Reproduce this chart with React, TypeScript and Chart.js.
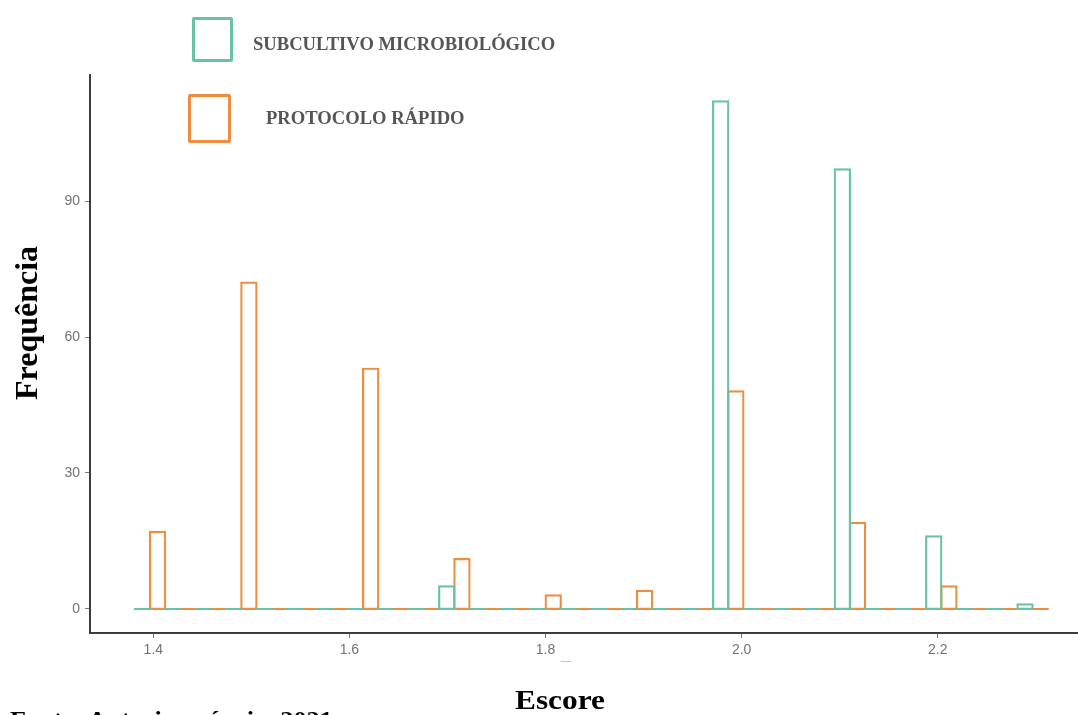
import React, { useEffect, useRef } from "react";
import { Chart, registerables } from "chart.js";

Chart.register(...registerables);

// Histogram bin centres (30 bins)
const BIN_CENTERS = [
  1.3966, 1.4276, 1.4587, 1.4897, 1.5208, 1.5518, 1.5828, 1.6139, 1.6449, 1.676,
  1.707, 1.738, 1.7691, 1.8001, 1.8312, 1.8622, 1.8933, 1.9243, 1.9553, 1.9864,
  2.0174, 2.0485, 2.0795, 2.1105, 2.1416, 2.1726, 2.2037, 2.2347, 2.2657, 2.2968,
];

const SUBCULTIVO_MICRO = [
  0, 0, 0, 0, 0, 0, 0, 0, 0, 0,
  5, 0, 0, 0, 0, 0, 0, 0, 0, 112,
  0, 0, 0, 97, 0, 0, 16, 0, 0, 1,
];

const PROTOCOLO_RAPIDO = [
  17, 0, 0, 72, 0, 0, 0, 53, 0, 0,
  11, 0, 0, 3, 0, 0, 4, 0, 0, 48,
  0, 0, 0, 19, 0, 0, 5, 0, 0, 0,
];

const X_TICK_VALUES = [1.4, 1.6, 1.8, 2.0, 2.2];
const Y_TICK_VALUES = [0, 30, 60, 90];
const SERIES_LABELS = ["SUBCULTIVO MICROBIOLÓGICO", "PROTOCOLO RÁPIDO"];
const X_TITLE = "Escore";
const Y_TITLE = "Frequência";
const SOURCE_NOTE = "Fonte: Autoria própria, 2021";

const GREEN = "#66c3a3";
const ORANGE = "#ee8c40";
const HALF_STROKE = 0.24; // half the outline thickness, expressed in count units

const serif = '"Liberation Serif", "Times New Roman", serif';
const sans = '"Liberation Sans", Arial, sans-serif';

export default function App() {
  const canvasRef = useRef<HTMLCanvasElement | null>(null);

  useEffect(() => {
    const canvas = canvasRef.current;
    if (!canvas) return;
    const toBars = (vals: number[]) =>
      BIN_CENTERS.map((x, i) => ({ x, y: [-HALF_STROKE, vals[i] + HALF_STROKE] }));

    const common = {
      backgroundColor: "rgba(0,0,0,0)",
      borderWidth: 2.2,
      borderSkipped: false,
      barPercentage: 1.14,
      categoryPercentage: 1,
    };

    const chart = new Chart(canvas, {
      type: "bar",
      data: {
        datasets: [
          { label: SERIES_LABELS[0], data: toBars(SUBCULTIVO_MICRO) as any, borderColor: GREEN, ...common } as any,
          { label: SERIES_LABELS[1], data: toBars(PROTOCOLO_RAPIDO) as any, borderColor: ORANGE, ...common } as any,
        ],
      },
      options: {
        animation: false,
        responsive: true,
        maintainAspectRatio: false,
        layout: { padding: { top: 75, left: 0, right: 0, bottom: 0 } },
        plugins: { legend: { display: false }, tooltip: { enabled: false } },
        scales: {
          x: {
            type: "linear",
            min: 1.3354,
            max: 2.3431,
            offset: false,
            grid: { display: true, offset: false, drawOnChartArea: false, drawTicks: true, tickLength: 5, color: "#7a7a7a", lineWidth: 1 },
            border: { display: true, color: "#3d3d3d", width: 2 },
            ticks: {
              font: { family: sans, size: 14 },
              color: "#737373",
              padding: 4,
              maxRotation: 0,
              autoSkip: false,
              callback: (v: any) => Number(v).toFixed(1),
            },
            afterBuildTicks: (s: any) => {
              s.ticks = X_TICK_VALUES.map((value) => ({ value }));
            },
            afterFit: (s: any) => {
              s.height = 82;
            },
          },
          y: {
            type: "linear",
            min: -5.3,
            max: 117.8,
            grid: { display: true, drawOnChartArea: false, drawTicks: true, tickLength: 5, color: "#7a7a7a", lineWidth: 1 },
            border: { display: true, color: "#3d3d3d", width: 2 },
            ticks: {
              font: { family: sans, size: 14 },
              color: "#737373",
              padding: 5,
              callback: (v: any) => String(v),
            },
            afterBuildTicks: (s: any) => {
              s.ticks = Y_TICK_VALUES.map((value) => ({ value }));
            },
            afterFit: (s: any) => {
              s.width = 90;
            },
          },
        },
      } as any,
    });
    return () => chart.destroy();
  }, []);

  const legendText: React.CSSProperties = {
    position: "absolute",
    fontFamily: serif,
    fontWeight: "bold",
    fontSize: 18.6,
    lineHeight: "18px",
    color: "#555555",
    whiteSpace: "nowrap",
  };

  return (
    <div style={{ position: "absolute", left: 0, top: 0, width: 1078, height: 715, overflow: "hidden", background: "#ffffff" }}>
      <canvas ref={canvasRef} style={{ position: "absolute", left: 0, top: 0, width: 1078, height: 715 }} />

      {/* legend */}
      <div style={{ position: "absolute", left: 192, top: 17, width: 41, height: 45, boxSizing: "border-box", border: `3px solid ${GREEN}`, borderRadius: 2 }} />
      <div style={{ ...legendText, left: 253, top: 34.5 }}>{SERIES_LABELS[0]}</div>
      <div style={{ position: "absolute", left: 188, top: 94, width: 43, height: 49, boxSizing: "border-box", border: `3px solid ${ORANGE}`, borderRadius: 2 }} />
      <div style={{ ...legendText, left: 266, top: 108.5 }}>{SERIES_LABELS[1]}</div>

      {/* axis titles */}
      <div
        style={{
          position: "absolute",
          left: 26,
          top: 323,
          transform: "translate(-50%, -50%) rotate(-90deg)",
          fontFamily: serif,
          fontWeight: "bold",
          fontSize: 32,
          lineHeight: "32px",
          color: "#000",
          whiteSpace: "nowrap",
        }}
      >
        {Y_TITLE}
      </div>
      <div
        style={{
          position: "absolute",
          left: 560,
          top: 686,
          transform: "translateX(-50%) scaleX(1.12)",
          fontFamily: serif,
          fontWeight: "bold",
          fontSize: 28,
          lineHeight: "28px",
          color: "#000",
          whiteSpace: "nowrap",
        }}
      >
        {X_TITLE}
      </div>
      <div
        style={{
          position: "absolute",
          left: 10,
          top: 707,
          transformOrigin: "left center",
          transform: "scaleX(1.09)",
          fontFamily: serif,
          fontWeight: "bold",
          fontSize: 24,
          lineHeight: "24px",
          color: "#000",
          whiteSpace: "nowrap",
        }}
      >
        {SOURCE_NOTE}
      </div>
      <div style={{ position: "absolute", left: 561, top: 661, width: 10, height: 1, background: "#c4c4c4" }} />
    </div>
  );
}
